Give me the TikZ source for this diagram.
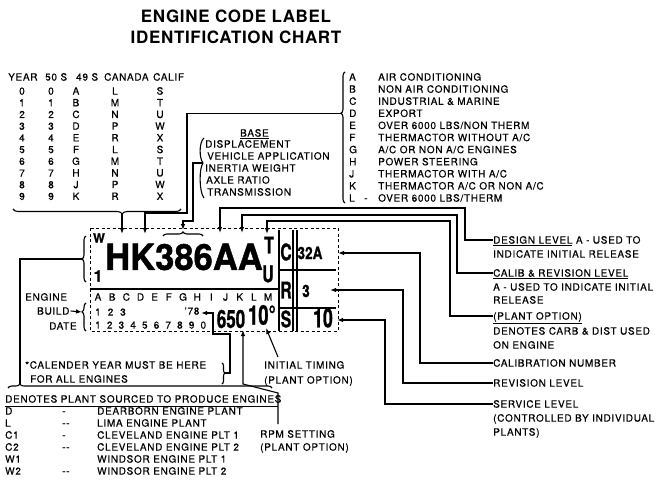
\documentclass[tikz,border=0pt]{standalone}
\usepackage{fontspec}
\usepackage{graphicx}
\usetikzlibrary{arrows.meta,decorations.pathreplacing}
\setmainfont{TeX Gyre Heros}
\newfontfamily\labf{texgyreheros-regular.otf}[FakeBold=0.5,LetterSpace=7]
\newfontfamily\titlef{texgyreheros-bold.otf}[LetterSpace=4]
\newfontfamily\hkf{texgyreheros-bold.otf}[FakeStretch=0.96,FakeBold=1.2]
\newfontfamily\condf{texgyreheros-bold.otf}[FakeStretch=0.68,FakeBold=1]
\newfontfamily\semif{texgyreheros-bold.otf}[FakeStretch=0.8,FakeBold=0.8]
\tikzset{
  lab/.style={font=\labf\fontsize{10}{12}\selectfont, inner sep=0pt, text height=7.2pt, text depth=0pt, anchor=west},
  labc/.style={lab, anchor=center},
  big/.style={inner sep=0pt, anchor=center},
  conn/.style={line width=1.1pt},
  arr/.style={conn, -{Latex[length=6pt,width=4.5pt]}},
  dashbox/.style={line width=0.6pt, dash pattern=on 3pt off 2.5pt},
  ttl/.style={font=\titlef\fontsize{17}{20}\selectfont, inner sep=0pt, anchor=center}
}
\begin{document}
\begin{tikzpicture}[x=1pt,y=-1pt]
\useasboundingbox (0,0) rectangle (663,481);
% title
\node[ttl] (t1) at (236,16) {ENGINE CODE LABEL};
\node[ttl] (t2) at (236,37) {IDENTIFICATION CHART};
% year table
\node[lab] (hy) at (8,77) {YEAR};
\node[lab] (h50) at (45,77) {50 S};
\node[lab] (h49) at (76,77) {49 S};
\node[lab] (hca) at (104,77) {CANADA};
\node[lab] (hcf) at (153,77) {CALIF};
\foreach \a/\b/\c/\d/\e [count=\i from 0] in {0/0/A/L/S,1/1/B/M/T,2/2/C/N/U,3/3/D/P/W,4/4/E/R/X,5/5/F/L/S,6/6/G/M/T,7/7/H/N/U,8/8/J/P/W,9/9/K/R/X}{
  \node[labc] (ya\i) at (22,{91+11.7*\i}) {\a};
  \node[labc] (yb\i) at (51,{91+11.7*\i}) {\b};
  \node[labc] (yc\i) at (76,{91+11.7*\i}) {\c};
  \node[labc] (yd\i) at (115,{91+11.7*\i}) {\d};
  \node[labc] (ye\i) at (160,{91+11.7*\i}) {\e};
}
\coordinate (yb1) at (13,209);
\coordinate (yb2) at (181,209);
\draw[conn, decorate, decoration={brace, amplitude=5pt, aspect=0.65, mirror}] (yb1) -- (yb2);
\coordinate (ybt) at (122,214);
\coordinate (hH) at (122,234);
\draw[arr] (ybt) -- (hH);
% option list
\node[lab] (la) at (349,77) {A};
\node[lab] (lb) at (349,89.1) {B};
\node[lab] (lc) at (349,101.2) {C};
\node[lab] (ld) at (349,113.3) {D};
\node[lab] (le) at (349,125.4) {E};
\node[lab] (lf) at (349,137.5) {F};
\node[lab] (lg) at (349,149.6) {G};
\node[lab] (lh) at (349,161.7) {H};
\node[lab] (lj) at (349,173.8) {J};
\node[lab] (lk) at (349,185.9) {K};
\node[lab] (ll) at (349,198) {L};
\node[lab] (ldash) at (364,198) {-};
\node[lab] (da) at (378,77) {AIR CONDITIONING};
\node[lab] (db) at (378,89.1) {NON AIR CONDITIONING};
\node[lab] (dc) at (378,101.2) {INDUSTRIAL \& MARINE};
\node[lab] (dd) at (378,113.3) {EXPORT};
\node[lab] (de) at (378,125.4) {OVER 6000 LBS/NON THERM};
\node[lab] (df) at (378,137.5) {THERMACTOR WITHOUT A/C};
\node[lab] (dg) at (378,149.6) {A/C OR NON A/C ENGINES};
\node[lab] (dh) at (378,161.7) {POWER STEERING};
\node[lab] (dj) at (378,173.8) {THERMACTOR WITH A/C};
\node[lab] (dk) at (378,185.9) {THERMACTOR A/C OR NON A/C};
\node[lab] (dl) at (378,198) {OVER 6000 LBS/THERM};
\coordinate (lb1) at (345,72);
\coordinate (lb2) at (345,203);
\draw[conn, decorate, decoration={brace, amplitude=4pt, aspect=0.315, mirror}] (lb1) -- (lb2);
\coordinate (ldc) at (341,113.3);
\coordinate (hK) at (145,234);
\draw[arr] (ldc) -- (187,113.3) -- (187,213) -- (145,213) -- (hK);
% base group
\node[lab] (bbase) at (240,133) {\underline{BASE}};
\node[lab] (bdisp) at (205,144) {DISPLACEMENT};
\node[lab] (bveh) at (207,156) {VEHICLE APPLICATION};
\node[lab] (biner) at (205,168) {INERTIA WEIGHT};
\node[lab] (baxle) at (206,180) {AXLE RATIO};
\node[lab] (btrans) at (207,192) {TRANSMISSION};
\coordinate (bj) at (203,163);
\draw[conn] (204,138) .. controls (199,142) and (199,158) .. (bj);
\draw[conn] (bj) .. controls (199,168) and (199,192) .. (204,198);
\coordinate (h38) at (183,230);
\draw[arr] (bj) -- (193,163) -- (193,221) -- (183,221) -- (h38);
\coordinate (s1) at (163,236);
\coordinate (s2) at (203,236);
\draw[conn, decorate, decoration={brace, amplitude=4pt}] (s1) -- (s2);
% label box
\draw[dashbox] (90,228) rectangle (338,331);
\draw[line width=1.4pt] (90,289) -- (279,289);
\draw[line width=1.3pt] (279,230) -- (279,331);
\draw[line width=1.1pt] (293,230) -- (293,331);
\draw[line width=1.1pt] (297,230) -- (297,331);
\draw[line width=1.1pt] (279,270) -- (336,270);
\draw[line width=1.1pt] (279,308) -- (336,308);
\node[big, font=\hkf\fontsize{13}{14}\selectfont] (kw) at (99,238) {W};
\node[big, font=\hkf\fontsize{16}{18}\selectfont] (k1) at (98,276) {1};
\node[big, font=\hkf\fontsize{36}{40}\selectfont] (khk) at (184,257) {HK386AA};
\node[big, font=\condf\fontsize{23}{24}\selectfont] (kt) at (269,245) {T};
\node[big, font=\condf\fontsize{23}{24}\selectfont] (ku) at (268,274) {U};
\node[big, font=\condf\fontsize{23}{24}\selectfont] (kc) at (286,252) {C};
\node[big, font=\condf\fontsize{23}{24}\selectfont] (kr) at (286,290) {R};
\node[big, font=\condf\fontsize{23}{24}\selectfont] (ks) at (286,319) {S};
\node[big, font=\semif\fontsize{17}{18}\selectfont] (k32) at (310,253) {32A};
\node[big, font=\semif\fontsize{17}{18}\selectfont] (k3) at (306,291) {3};
\node[big, font=\condf\fontsize{26}{28}\selectfont] (k10) at (323,318) {10};
\node[big, font=\condf\fontsize{25}{28}\selectfont] (k650) at (231,319) {650};
\node[big, font=\condf\fontsize{27}{28}\selectfont] (kdeg) at (262,315) {10°};
\foreach \l [count=\i from 0] in {A,B,C,D,E,F,G,H,I,J,K,L,M}{
  \node[labc] (cl\i) at ({98+14.17*\i},297) {\l};
}
\foreach \l [count=\i from 0] in {1,2,3}{
  \node[labc] (ct\i) at ({98+12.5*\i},312) {\l};
}
\node[labc] (c78) at (192,311) {’78};
\foreach \l [count=\i from 0] in {1,2,3,4,5,6,7,8,9,0}{
  \node[labc] (cd\i) at ({98+11.7*\i},325) {\l};
}
% left side
\node[lab] (eng) at (25,297) {ENGINE};
\node[lab] (bld) at (37,311) {BUILD};
\node[lab] (dat) at (49,326) {DATE};
\coordinate (wb1) at (86,236);
\coordinate (wb2) at (86,282);
\draw[conn, decorate, decoration={brace, amplitude=4pt, mirror}] (wb1) -- (wb2);
\coordinate (bb1) at (86,303);
\coordinate (bb2) at (86,331);
\draw[conn, decorate, decoration={brace, amplitude=4pt, aspect=0.32, mirror}] (bb1) -- (bb2);
\coordinate (bbc) at (82,312);
\draw[arr] (bld.east) ++(1,0) -- (bbc);
\coordinate (wbc) at (82,259);
\coordinate (pb1) at (8,388);
\coordinate (pb2) at (272,388);
\draw[conn] (wbc) -- (20,259) -- (20,385);
\draw[conn, decorate, decoration={brace, amplitude=4pt, aspect=0.045}] (pb1) -- (pb2);
% calender note
\node[lab] (cal1) at (25,365) {*CALENDER YEAR MUST BE HERE};
\node[lab] (cal2) at (30,379) {FOR ALL ENGINES};
\coordinate (cb1) at (222,363);
\coordinate (cb2) at (222,384);
\draw[conn, decorate, decoration={brace, amplitude=3pt, aspect=0.48}] (cb1) -- (cb2);
\coordinate (cbc) at (225,373);
\coordinate (h78) at (201,313);
\draw[arr] (cbc) -- (230,373) -- (230,334) -- (213,334) -- (213,313) -- (h78);
% timing and rpm
\node[lab] (it1) at (264,365) {INITIAL TIMING};
\node[lab] (it2) at (264,380) {(PLANT OPTION)};
\node[lab] (rp1) at (260,434) {RPM SETTING};
\node[lab] (rp2) at (260,447) {(PLANT OPTION)};
\coordinate (itc) at (278,357);
\coordinate (h10) at (266,328);
\draw[arr] (itc) -- (h10);
\coordinate (rpc) at (278,424);
\coordinate (h650) at (243,330);
\draw[arr] (rpc) -- (278,393) -- (243,384) -- (h650);
% plant table
\node[lab] (ph) at (5,399) {DENOTES PLANT SOURCED TO PRODUCE ENGINES};
\draw[line width=0.9pt] (5,406) -- (278,406);
\foreach \c/\s/\n [count=\i from 0] in {D/-/DEARBORN ENGINE PLANT, L/--/LIMA ENGINE PLANT, C1/-/CLEVELAND ENGINE PLT 1, C2/--/CLEVELAND ENGINE PLT 2, W1/{}/WINDSOR ENGINE PLT 1, W2/--/WINDSOR ENGINE PLT 2}{
  \node[lab] (pc\i) at (5,{411+12*\i}) {\c};
  \node[lab] (ps\i) at (62,{411+12*\i}) {\s};
  \node[lab] (pn\i) at (97,{411+12*\i}) {\n};
}
% right side labels
\node[lab] (r1) at (493,240) {\underline{DESIGN LEVEL} A - USED TO};
\node[lab] (r1b) at (493,254) {INDICATE INITIAL RELEASE};
\node[lab] (r2) at (493,273) {\underline{CALIB \& REVISION LEVEL}};
\node[lab] (r2b) at (493,287) {A - USED TO INDICATE INITIAL};
\node[lab] (r2c) at (493,300) {RELEASE};
\node[lab] (r3) at (493,316) {\underline{(PLANT OPTION)}};
\node[lab] (r3b) at (493,331) {DENOTES CARB \& DIST  USED};
\node[lab] (r3c) at (493,345) {ON ENGINE};
\node[lab] (r4) at (493,363) {CALIBRATION NUMBER};
\node[lab] (r5) at (493,383) {REVISION LEVEL};
\node[lab] (r6) at (493,404) {SERVICE LEVEL};
\node[lab] (r6b) at (493,418) {(CONTROLLED BY INDIVIDUAL};
\node[lab] (r6c) at (493,432) {PLANTS)};
\coordinate (hA1) at (220,233);
\coordinate (hA2) at (242,233);
\coordinate (hT) at (267,234);
\coordinate (h32) at (338,253);
\coordinate (h3) at (330,290);
\coordinate (hS10) at (337,320);
\draw[arr] (r1.west) -- (465,240) -- (465,208) -- (220,208) -- (hA1);
\draw[arr] (r2.west) -- (457,273) -- (457,215) -- (242,215) -- (hA2);
\draw[arr] (r3.west) -- (450,316) -- (450,221) -- (267,221) -- (hT);
\draw[arr] (r4.west) -- (420,363) -- (420,253) -- (h32);
\draw[arr] (r5.west) -- (403,383) -- (403,290) -- (h3);
\draw[arr] (r6.west) -- (385,404) -- (385,320) -- (hS10);
\end{tikzpicture}
\end{document}
